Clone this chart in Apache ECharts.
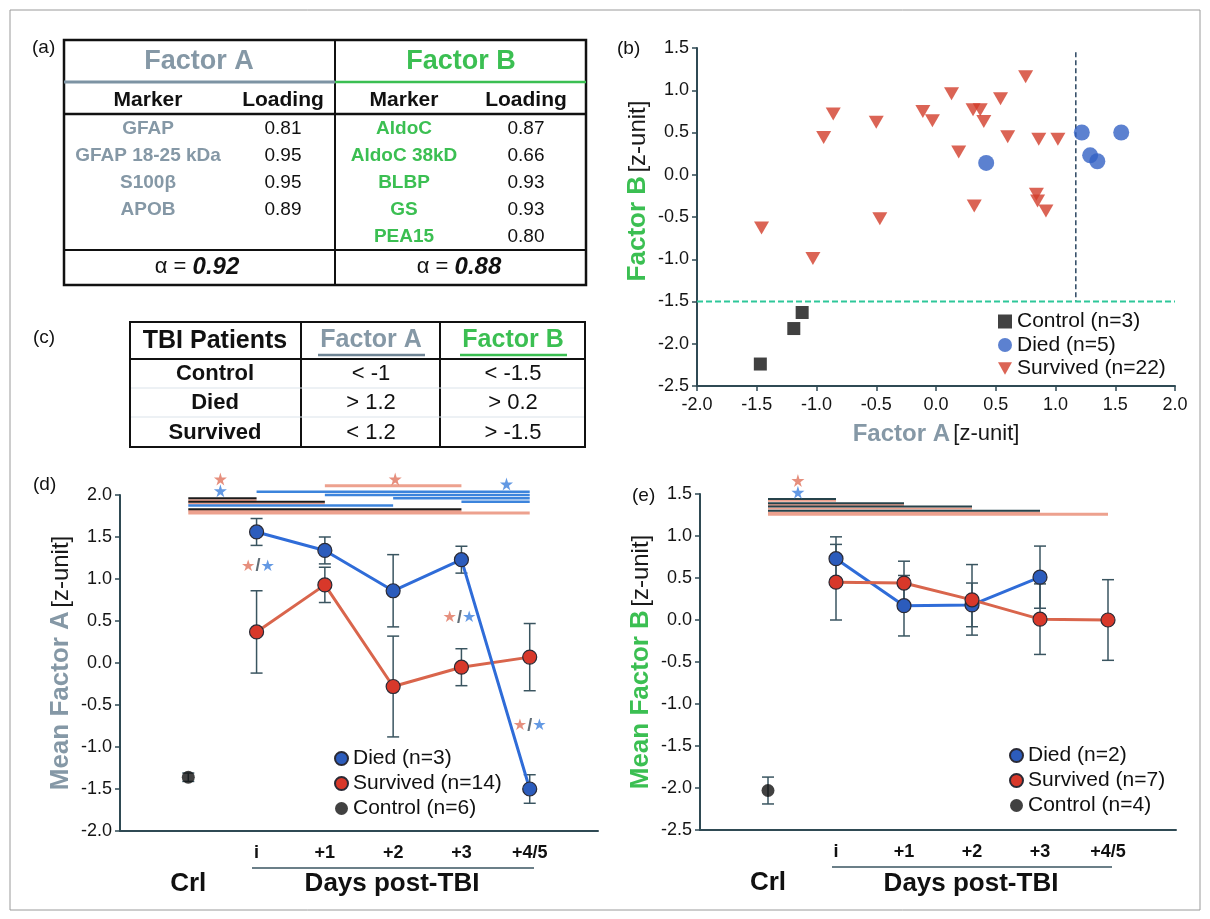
<!DOCTYPE html>
<html>
<head>
<meta charset="utf-8">
<title>Factor A / Factor B</title>
<script src="https://cdn.jsdelivr.net/npm/echarts@6/dist/echarts.min.js"></script>
<style>
  html, body { margin: 0; padding: 0; background: #fff; }
  #main { width: 1210px; height: 919px; }
</style>
</head>
<body>
<div id="main"></div>
<script>
// ---- table (a) ----
var factorAMarkers = ['GFAP', 'GFAP 18-25 kDa', 'S100\u03b2', 'APOB'];
var factorALoadings = ['0.81', '0.95', '0.95', '0.89'];
var factorBMarkers = ['AldoC', 'AldoC 38kD', 'BLBP', 'GS', 'PEA15'];
var factorBLoadings = ['0.87', '0.66', '0.93', '0.93', '0.80'];
var alphaA = '0.92';
var alphaB = '0.88';

// ---- table (c) ----
var tbiGroups = ['Control', 'Died', 'Survived'];
var tbiFactorA = ['< -1', '> 1.2', '< 1.2'];
var tbiFactorB = ['< -1.5', '> 0.2', '> -1.5'];

// ---- scatter (b) ----
var controlA = [-1.47, -1.19, -1.12];
var controlB = [-2.24, -1.82, -1.63];
var diedA = [0.42, 1.22, 1.29, 1.35, 1.55];
var diedB = [0.14, 0.50, 0.23, 0.16, 0.50];
var survA = [-1.46, -1.03, -0.94, -0.86, -0.50, -0.47, -0.11, -0.03, 0.13, 0.19, 0.32,
             0.31, 0.37, 0.40, 0.54, 0.60, 0.75, 0.84, 0.85, 0.86, 0.92, 1.02];
var survB = [-0.63, -0.99, 0.44, 0.72, 0.62, -0.52, 0.75, 0.64, 0.96, 0.27, -0.37,
             0.77, 0.77, 0.63, 0.90, 0.45, 1.16, -0.23, -0.31, 0.42, -0.43, 0.42];
var cutoffA = 1.17;
var cutoffATop = 1.45;
var cutoffB = -1.5;

// ---- time course (d) and (e) ----
var days = ['Crl', 'i', '+1', '+2', '+3', '+4/5'];
var diedMeanA = [1.56, 1.34, 0.86, 1.23, -1.50];
var diedErrA = [0.16, 0.16, 0.43, 0.16, 0.17];
var survMeanA = [0.37, 0.93, -0.28, -0.05, 0.07];
var survErrA = [0.49, 0.21, 0.60, 0.22, 0.40];
var ctrlMeanA = -1.36, ctrlErrA = 0.05;

var diedMeanB = [0.73, 0.17, 0.18, 0.51];
var diedErrB = [0.26, 0.36, 0.26, 0.37];
var survMeanB = [0.45, 0.44, 0.24, 0.01, 0.00];
var survErrB = [0.45, 0.26, 0.42, 0.42, 0.48];
var ctrlMeanB = -2.03, ctrlErrB = 0.16;

// significance bars: [from day, to day, level, group]
var sigRowsA = [[2, 4, 2.11, 'S'], [1, 5, 2.04, 'B'], [2, 5, 2.00, 'B'], [0, 1, 1.96, 'K'], [3, 5, 1.96, 'B'],
                [0, 2, 1.92, 'K'], [4, 5, 1.92, 'B'], [0, 3, 1.875, 'B'], [0, 4, 1.83, 'K'], [0, 5, 1.785, 'S']];
var sigRowsB = [[0, 1, 1.44, 'K'], [0, 2, 1.39, 'K'], [0, 3, 1.35, 'K'], [0, 4, 1.30, 'K'], [0, 5, 1.26, 'S']];
var starRedA = [[0.47, 2.19], [3.03, 2.19]];
var starBlueA = [[0.47, 2.05], [4.66, 2.13]];
var starRedB = [[0.44, 1.66]];
var starBlueB = [[0.44, 1.52]];
var pairStarsA = [[1.02, 1.15], [3.97, 0.54], [5.0, -0.75]];

// ---- styling ----
var GRAY = '#8598a6', GREEN = '#3bbf52', AXIS = '#2f4a54', ERR = '#3a5560';
var BLUE_LINE = '#2f6cd8', BLUE_PT = '#2c5cbc', RED_LINE = '#d9654c', RED_PT = '#d8382a';
var FONT = '"Liberation Sans", Arial, sans-serif';
var triDown = 'path://M0,0 L10,0 L5,9 Z';
var starPath = 'path://M50,0 L61,35 L98,35 L68,57 L79,91 L50,70 L21,91 L32,57 L2,35 L39,35 Z';
var sigStyle = {
  S: { color: '#eda18e', width: 3 },
  B: { color: '#3c84dc', width: 2.5 },
  K: { color: '#1b1b1b', width: 2 }
};

var myChart = echarts.init(document.getElementById('main'));

function txt(x, y, text, font, fill, align) {
  return { type: 'text', x: x, y: y, style: { text: text, font: font, fill: fill || '#111',
    align: align || 'center', verticalAlign: 'middle' } };
}
function ln(x1, y1, x2, y2, color, w) {
  return { type: 'line', shape: { x1: x1, y1: y1, x2: x2, y2: y2 }, style: { stroke: color, lineWidth: w } };
}

// tables are drawn with graphic elements
var g = [];
g.push({ type: 'rect', shape: { x: 10, y: 10, width: 1190, height: 900 }, style: { fill: 'none', stroke: '#9a9a9a', lineWidth: 1 } });
g.push(txt(32, 48, '(a)', '19px ' + FONT, '#111', 'left'));
g.push(txt(617, 49, '(b)', '19px ' + FONT, '#111', 'left'));
g.push(txt(33, 338, '(c)', '19px ' + FONT, '#111', 'left'));
g.push(txt(33, 485, '(d)', '19px ' + FONT, '#111', 'left'));
g.push(txt(632, 496, '(e)', '19px ' + FONT, '#111', 'left'));

// table (a)
g.push({ type: 'rect', shape: { x: 64, y: 40, width: 522, height: 245 }, style: { fill: 'none', stroke: '#111', lineWidth: 2.5 } });
g.push(ln(335, 40, 335, 285, '#111', 2));
g.push(ln(64, 82, 335, 82, '#7d93a3', 3));
g.push(ln(335, 82, 586, 82, GREEN, 2.5));
g.push(ln(64, 114, 586, 114, '#111', 2.5));
g.push(ln(64, 250, 586, 250, '#111', 2));
g.push(txt(199, 62, 'Factor A', 'bold 27px ' + FONT, GRAY));
g.push(txt(461, 62, 'Factor B', 'bold 27px ' + FONT, GREEN));
g.push(txt(148, 100, 'Marker', 'bold 21px ' + FONT));
g.push(txt(283, 100, 'Loading', 'bold 21px ' + FONT));
g.push(txt(404, 100, 'Marker', 'bold 21px ' + FONT));
g.push(txt(526, 100, 'Loading', 'bold 21px ' + FONT));
factorAMarkers.forEach(function (m, i) {
  g.push(txt(148, 129 + i * 27, m, 'bold 19px ' + FONT, GRAY));
  g.push(txt(283, 129 + i * 27, factorALoadings[i], '19px ' + FONT));
});
factorBMarkers.forEach(function (m, i) {
  g.push(txt(404, 129 + i * 27, m, 'bold 19px ' + FONT, GREEN));
  g.push(txt(526, 129 + i * 27, factorBLoadings[i], '19px ' + FONT));
});
[[197, alphaA], [459, alphaB]].forEach(function (a) {
  g.push({ type: 'text', x: a[0], y: 267, style: { text: '{n|\u03b1 = }{v|' + a[1] + '}', align: 'center', verticalAlign: 'middle',
    rich: { n: { fontSize: 22, fontFamily: FONT, fill: '#111' },
            v: { fontSize: 24, fontFamily: FONT, fontWeight: 'bold', fontStyle: 'italic', fill: '#111' } } } });
});

// table (c)
g.push({ type: 'rect', shape: { x: 130, y: 322, width: 455, height: 125 }, style: { fill: 'none', stroke: '#111', lineWidth: 2 } });
g.push(ln(301, 322, 301, 447, '#111', 2));
g.push(ln(440, 322, 440, 447, '#111', 2));
g.push(ln(130, 359, 585, 359, '#111', 2));
g.push(ln(131, 388, 584, 388, '#dbe3ea', 1));
g.push(ln(131, 417, 584, 417, '#dbe3ea', 1));
g.push(txt(215, 341, 'TBI Patients', 'bold 25px ' + FONT));
g.push(txt(371, 340, 'Factor A', 'bold 25px ' + FONT, GRAY));
g.push(ln(318, 355, 425, 355, '#6f8595', 2.5));
g.push(txt(513, 340, 'Factor B', 'bold 25px ' + FONT, GREEN));
g.push(ln(460, 355, 567, 355, GREEN, 2.5));
tbiGroups.forEach(function (grp, i) {
  var y = 374 + i * 29.3;
  g.push(txt(215, y, grp, 'bold 22px ' + FONT));
  g.push(txt(371, y, tbiFactorA[i], '22px ' + FONT));
  g.push(txt(513, y, tbiFactorB[i], '22px ' + FONT));
});

// "Days post-TBI" groups under (d) and (e)
g.push(ln(252, 868, 534, 868, ERR, 1.5));
g.push(txt(392, 884, 'Days post-TBI', 'bold 26px ' + FONT));
g.push(ln(832, 867, 1112, 867, ERR, 1.5));
g.push(txt(971, 884, 'Days post-TBI', 'bold 26px ' + FONT));

function errRender(params, api) {
  var x = api.value(0), y = api.value(1), e = api.value(2);
  var hi = api.coord([x, y + e]), lo = api.coord([x, y - e]);
  var st = { stroke: ERR, lineWidth: 1.5 };
  return { type: 'group', children: [
    { type: 'line', shape: { x1: hi[0], y1: hi[1], x2: lo[0], y2: lo[1] }, style: st },
    { type: 'line', shape: { x1: hi[0] - 6, y1: hi[1], x2: hi[0] + 6, y2: hi[1] }, style: st },
    { type: 'line', shape: { x1: lo[0] - 6, y1: lo[1], x2: lo[0] + 6, y2: lo[1] }, style: st }
  ] };
}
function errSeries(means, errs, start, xi, yi) {
  return { type: 'custom', xAxisIndex: xi, yAxisIndex: yi, z: 2, silent: true,
    renderItem: errRender, encode: { x: 0, y: 1 },
    data: means.map(function (m, i) { return [start + i, m, errs[i]]; }) };
}
function sigSeries(rows, xi, yi, darkColor) {
  return { type: 'custom', xAxisIndex: xi, yAxisIndex: yi, z: 1, silent: true, clip: false,
    encode: { x: [0, 1], y: 2 },
    data: rows.map(function (r) { return [r[0], r[1], r[2]]; }),
    renderItem: function (params, api) {
      var grp = rows[params.dataIndex][3];
      var p1 = api.coord([api.value(0), api.value(2)]);
      var p2 = api.coord([api.value(1), api.value(2)]);
      var s = sigStyle[grp];
      var kids = [];
      if (grp === 'K') {
        kids.push({ type: 'line', shape: { x1: p1[0], y1: p1[1] + 1.8, x2: p2[0], y2: p2[1] + 1.8 },
          style: { stroke: '#eda18e', lineWidth: 2 } });
      }
      kids.push({ type: 'line', shape: { x1: p1[0], y1: p1[1], x2: p2[0], y2: p2[1] },
        style: { stroke: grp === 'K' ? darkColor : s.color, lineWidth: s.width } });
      return { type: 'group', children: kids };
    } };
}
function starSeries(pts, color, xi, yi) {
  return { type: 'scatter', xAxisIndex: xi, yAxisIndex: yi, z: 5, silent: true, clip: false,
    symbol: starPath, symbolSize: 13, itemStyle: { color: color }, data: pts };
}
function meanLine(name, means, xi, yi, lineColor, ptColor) {
  return { type: 'line', name: name, xAxisIndex: xi, yAxisIndex: yi, z: 3,
    symbol: 'circle', symbolSize: 14, showAllSymbol: true,
    lineStyle: { color: lineColor, width: 3 },
    itemStyle: { color: ptColor, borderColor: '#2a2a35', borderWidth: 1.2 },
    data: means.map(function (m, i) { return [i + 1, m]; }) };
}
function ctrlPoint(name, mean, xi, yi) {
  return { type: 'scatter', name: name, xAxisIndex: xi, yAxisIndex: yi, z: 3,
    symbol: 'circle', symbolSize: 13, itemStyle: { color: '#111' }, data: [[0, mean]] };
}

function numLabel(v) { return v.toFixed(1); }
function dayLabel(v) {
  var i = Math.round(v);
  if (i === 0) return '{sp|\u00a0}\n{crl|Crl}';
  if (i >= 1 && i <= 5) return '{t|' + days[i] + '}';
  return '';
}
var dayRich = {
  t: { fontSize: 18, fontWeight: 'bold', color: '#111', lineHeight: 20, fontFamily: FONT },
  sp: { fontSize: 18, lineHeight: 26 },
  crl: { fontSize: 26, fontWeight: 'bold', color: '#111', lineHeight: 30, fontFamily: FONT }
};
var axisLine = { onZero: false, lineStyle: { color: AXIS, width: 2 } };
var axisTick = { length: 5, lineStyle: { color: AXIS, width: 1.5 } };
var tickText = { formatter: numLabel, fontSize: 18, color: '#141414', margin: 8, fontFamily: FONT };
function yName(label, color) {
  return {
    name: '{g|' + label + '} {d|[z-unit]}', nameLocation: 'middle', nameRotate: 90,
    nameTextStyle: { rich: {
      g: { color: color, fontSize: 26, fontWeight: 'bold', fontFamily: FONT },
      d: { color: '#1a1a1a', fontSize: 24, fontFamily: FONT } } }
  };
}

var yB = yName('Factor B', GREEN); yB.nameGap = 46; yB.nameTextStyle.padding = [0, 0, 0, 52];
var yD = yName('Mean Factor A', GRAY); yD.nameGap = 46;
var yE = yName('Mean Factor B', GREEN); yE.nameGap = 46;

var option = {
  animation: false,
  backgroundColor: '#fff',
  textStyle: { fontFamily: FONT },
  graphic: g,
  grid: [
    { left: 697, top: 48, width: 478, height: 338 },
    { left: 120, top: 495, width: 478, height: 336 },
    { left: 700, top: 494, width: 476, height: 336 }
  ],
  xAxis: [
    { gridIndex: 0, type: 'value', min: -2, max: 2, interval: 0.5, axisLine: axisLine, axisTick: axisTick,
      splitLine: { show: false }, axisLabel: Object.assign({}, tickText, { margin: 10 }),
      name: '{g|Factor A} {d|[z-unit]}', nameLocation: 'middle', nameGap: 36,
      nameTextStyle: { rich: {
        g: { color: GRAY, fontSize: 24, fontWeight: 'bold', fontFamily: FONT },
        d: { color: '#1a1a1a', fontSize: 22, fontFamily: FONT } } } },
    { gridIndex: 1, type: 'value', min: -1, max: 6, interval: 1, axisLine: axisLine, axisTick: { show: false },
      splitLine: { show: false }, axisLabel: { formatter: dayLabel, rich: dayRich, margin: 12 } },
    { gridIndex: 2, type: 'value', min: -1, max: 6, interval: 1, axisLine: axisLine, axisTick: { show: false },
      splitLine: { show: false }, axisLabel: { formatter: dayLabel, rich: dayRich, margin: 12 } }
  ],
  yAxis: [
    Object.assign({ gridIndex: 0, type: 'value', min: -2.5, max: 1.5, interval: 0.5, axisLine: axisLine,
      axisTick: axisTick, splitLine: { show: false }, axisLabel: tickText }, yB),
    Object.assign({ gridIndex: 1, type: 'value', min: -2, max: 2, interval: 0.5, axisLine: axisLine,
      axisTick: axisTick, splitLine: { show: false }, axisLabel: tickText }, yD),
    Object.assign({ gridIndex: 2, type: 'value', min: -2.5, max: 1.5, interval: 0.5, axisLine: axisLine,
      axisTick: axisTick, splitLine: { show: false }, axisLabel: tickText }, yE)
  ],
  legend: [
    { orient: 'vertical', left: 993, top: 306, itemGap: 2.5, itemWidth: 14, itemHeight: 14,
      textStyle: { fontSize: 21, color: '#111', fontFamily: FONT },
      data: ['Control (n=3)', 'Died (n=5)', 'Survived (n=22)'] },
    { orient: 'vertical', left: 329, top: 743, itemGap: 4, itemWidth: 13, itemHeight: 13, icon: 'circle',
      textStyle: { fontSize: 21, color: '#111', fontFamily: FONT },
      data: ['Died (n=3)', 'Survived (n=14)', 'Control (n=6)'] },
    { orient: 'vertical', left: 1004, top: 740, itemGap: 4, itemWidth: 13, itemHeight: 13, icon: 'circle',
      textStyle: { fontSize: 21, color: '#111', fontFamily: FONT },
      data: ['Died (n=2)', 'Survived (n=7)', 'Control (n=4)'] }
  ],
  series: [
    // (b)
    { type: 'line', xAxisIndex: 0, yAxisIndex: 0, silent: true, symbol: 'none', z: 1,
      lineStyle: { color: '#2b4660', width: 1.5, type: [5, 3] },
      data: [[cutoffA, cutoffATop], [cutoffA, cutoffB]] },
    { type: 'line', xAxisIndex: 0, yAxisIndex: 0, silent: true, symbol: 'none', z: 1,
      lineStyle: { color: '#2ec79a', width: 2, type: [6, 3] },
      data: [[-2, cutoffB], [2, cutoffB]] },
    { type: 'scatter', name: 'Control (n=3)', xAxisIndex: 0, yAxisIndex: 0, symbol: 'rect', symbolSize: 13,
      itemStyle: { color: '#111' }, data: controlA.map(function (a, i) { return [a, controlB[i]]; }) },
    { type: 'scatter', name: 'Died (n=5)', xAxisIndex: 0, yAxisIndex: 0, symbol: 'circle', symbolSize: 16,
      itemStyle: { color: '#3361c4' }, data: diedA.map(function (a, i) { return [a, diedB[i]]; }) },
    { type: 'scatter', name: 'Survived (n=22)', xAxisIndex: 0, yAxisIndex: 0, symbol: triDown, symbolSize: [15, 13],
      itemStyle: { color: '#d23d2a' }, data: survA.map(function (a, i) { return [a, survB[i]]; }) },

    // (d)
    sigSeries(sigRowsA, 1, 1, '#1b1b1b'),
    starSeries(starRedA, '#e0735c', 1, 1),
    starSeries(starBlueA, '#3c7fdc', 1, 1),
    errSeries(diedMeanA, diedErrA, 1, 1, 1),
    errSeries(survMeanA, survErrA, 1, 1, 1),
    errSeries([ctrlMeanA], [ctrlErrA], 0, 1, 1),
    meanLine('Survived (n=14)', survMeanA, 1, 1, RED_LINE, RED_PT),
    meanLine('Died (n=3)', diedMeanA, 1, 1, BLUE_LINE, BLUE_PT),
    ctrlPoint('Control (n=6)', ctrlMeanA, 1, 1),
    { type: 'scatter', xAxisIndex: 1, yAxisIndex: 1, silent: true, z: 6, symbolSize: 1,
      itemStyle: { color: 'rgba(0,0,0,0)' }, data: pairStarsA,
      label: { show: true, position: 'inside', formatter: '{r|\u2605}{s|/}{b|\u2605}',
        rich: { r: { color: '#e0735c', fontSize: 16, fontFamily: 'DejaVu Sans' },
                s: { color: '#3a4a55', fontSize: 18, fontWeight: 'bold', fontFamily: FONT },
                b: { color: '#3c7fdc', fontSize: 16, fontFamily: 'DejaVu Sans' } } } },

    // (e)
    sigSeries(sigRowsB, 2, 2, '#26434b'),
    starSeries(starRedB, '#e0735c', 2, 2),
    starSeries(starBlueB, '#3c7fdc', 2, 2),
    errSeries(diedMeanB, diedErrB, 1, 2, 2),
    errSeries(survMeanB, survErrB, 1, 2, 2),
    errSeries([ctrlMeanB], [ctrlErrB], 0, 2, 2),
    meanLine('Died (n=2)', diedMeanB, 2, 2, BLUE_LINE, BLUE_PT),
    meanLine('Survived (n=7)', survMeanB, 2, 2, RED_LINE, RED_PT),
    ctrlPoint('Control (n=4)', ctrlMeanB, 2, 2)
  ]
};

myChart.setOption(option);
</script>
</body>
</html>
